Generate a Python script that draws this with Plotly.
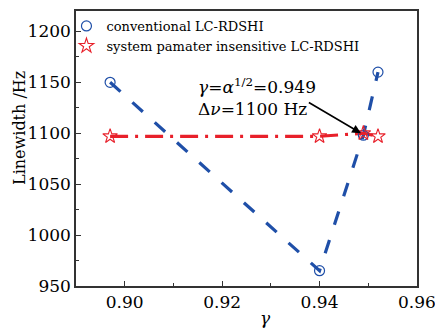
import plotly.graph_objects as go

# Linewidth vs. gamma for the two LC-RDSHI schemes
gamma_conv = [0.897, 0.940, 0.949, 0.952]
width_conv = [1150, 965, 1098, 1160]

gamma_sys = [0.897, 0.940, 0.949, 0.952]
width_sys = [1097, 1097, 1100, 1097]

x_ticks = [0.90, 0.92, 0.94, 0.96]
y_ticks = [950, 1000, 1050, 1100, 1150, 1200]

serif = "DejaVu Serif, serif"
blue = "#1f4fa8"
red = "#e8202a"

circle_marker = dict(symbol="circle-open", size=10, color=blue, line=dict(width=1.2))
star_marker = dict(symbol="star-open", size=11, color=red, line=dict(width=1.1))

fig = go.Figure()
# connecting lines (kept out of the legend)
fig.add_trace(go.Scatter(
    x=gamma_conv, y=width_conv, mode="lines", showlegend=False,
    line=dict(color=blue, width=3.2, dash="14px,16px"),
))
fig.add_trace(go.Scatter(
    x=gamma_sys, y=width_sys, mode="lines", showlegend=False,
    line=dict(color=red, width=3.2, dash="18px,7px,3px,7px"),
))
# markers (legend shows symbols only)
fig.add_trace(go.Scatter(
    x=gamma_conv, y=width_conv, mode="markers",
    name="conventional LC-RDSHI", marker=circle_marker,
))
fig.add_trace(go.Scatter(
    x=gamma_sys, y=width_sys, mode="markers",
    name="system pamater insensitive LC-RDSHI", marker=star_marker,
))

fig.add_annotation(
    x=0.9146, y=1136, xref="x", yref="y", xanchor="left", yanchor="middle",
    text="<i>γ</i>=<i>α</i><sup>1/2</sup>=0.949<br>Δ<i>ν</i>=1100 Hz",
    showarrow=False, align="left",
    font=dict(family=serif, size=17, color="black"),
)
fig.add_annotation(
    x=0.9485, y=1100, ax=0.9375, ay=1131, xref="x", yref="y",
    axref="x", ayref="y", text="", showarrow=True,
    arrowhead=2, arrowsize=1.1, arrowwidth=1.6, arrowcolor="black",
)
# axis titles
fig.add_annotation(
    x=-0.164, y=0.575, xref="paper", yref="paper", text="Linewidth /Hz",
    showarrow=False, textangle=-90, xanchor="center", yanchor="middle",
    font=dict(family=serif, size=16, color="black"),
)
fig.add_annotation(
    x=0.557, y=-0.116, xref="paper", yref="paper", text="<i>γ</i>",
    showarrow=False, xanchor="center", yanchor="middle",
    font=dict(family=serif, size=17, color="black"),
)

axis_common = dict(
    showline=True, linecolor="#333", linewidth=1.5, mirror=True,
    ticks="inside", ticklen=5, tickcolor="#333", showgrid=False, zeroline=False,
    tickfont=dict(family=serif, size=17, color="black"),
    ticklabeloverflow="allow",
)
fig.update_xaxes(
    range=[0.89, 0.96001], tickvals=x_ticks, tickformat=".2f",
    minor=dict(ticks="inside", dtick=0.01, ticklen=3, tickcolor="#333"),
    **axis_common,
)
fig.update_yaxes(
    range=[950, 1220], tickvals=y_ticks,
    minor=dict(ticks="inside", dtick=25, ticklen=3, tickcolor="#333"),
    **axis_common,
)
fig.update_layout(
    width=435, height=333,
    margin=dict(l=76, r=18, t=11, b=47, autoexpand=False),
    plot_bgcolor="white", paper_bgcolor="white",
    showlegend=True,
    legend=dict(
        x=-0.028, y=1.0, xanchor="left", yanchor="top",
        bgcolor="rgba(0,0,0,0)", borderwidth=0,
        font=dict(family=serif, size=13, color="black"),
        itemwidth=30, tracegroupgap=0,
    ),
)
fig.write_html("out.html")
